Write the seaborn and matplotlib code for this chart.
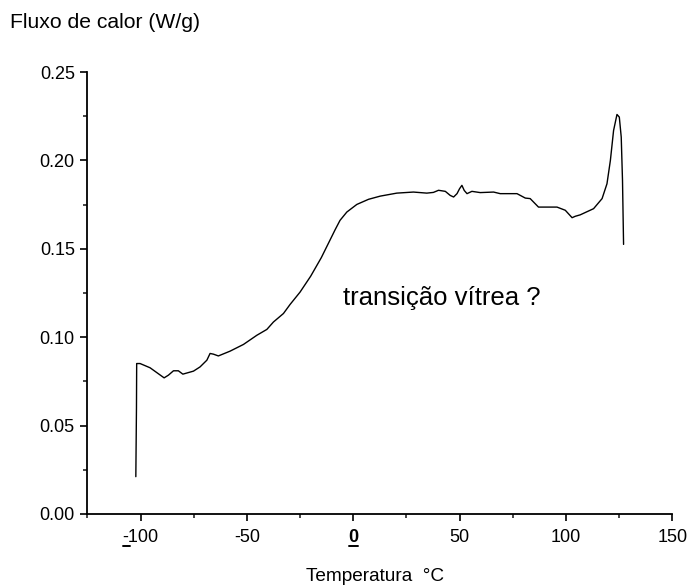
import matplotlib
matplotlib.use("Agg")
import matplotlib.pyplot as plt
from matplotlib.lines import Line2D
from matplotlib.ticker import MultipleLocator
import numpy as np
import pandas as pd
import seaborn as sns

# DSC heating curve: temperature (°C) vs heat flow (W/g)
temperatura = [
    -102.2, -101.9, -101.8, -100.2, -95.5, -88.9, -86.9, -84.5, -82.2, -80.1,
    -75.1, -72.0, -68.8, -67.3, -65.7, -63.4, -57.9, -51.6, -45.3, -40.6,
    -37.5, -32.8, -29.7, -25.0, -20.0, -15.0, -11.5, -8.5, -6.2, -3.0,
    1.7, 7.2, 12.7, 20.5, 28.3, 34.6, 37.7, 40.1, 43.3, 45.6,
    47.2, 48.8, 50.0, 51.1, 52.2, 53.5, 55.8, 59.7, 66.0, 69.1,
    77.0, 80.9, 83.2, 87.1, 91.1, 95.8, 99.7, 102.9, 104.4, 106.7,
    113.0, 117.0, 119.3, 120.9, 122.4, 124.0, 125.1, 126.0, 126.6, 127.1,
]
fluxo = [
    0.0211, 0.0600, 0.0851, 0.0851, 0.0827, 0.0770, 0.0785, 0.0810, 0.0810, 0.0791,
    0.0808, 0.0832, 0.0870, 0.0908, 0.0904, 0.0894, 0.0921, 0.0959, 0.1011, 0.1044,
    0.1086, 0.1134, 0.1185, 0.1255, 0.1345, 0.1450, 0.1535, 0.1608, 0.1661, 0.1708,
    0.1751, 0.1780, 0.1798, 0.1815, 0.1821, 0.1815, 0.1819, 0.1831, 0.1825, 0.1802,
    0.1793, 0.1812, 0.1840, 0.1859, 0.1830, 0.1812, 0.1825, 0.1818, 0.1821, 0.1812,
    0.1812, 0.1787, 0.1784, 0.1736, 0.1736, 0.1736, 0.1718, 0.1676, 0.1684, 0.1692,
    0.1727, 0.1784, 0.1868, 0.2000, 0.2169, 0.2260, 0.2245, 0.2132, 0.1887, 0.1525,
]

x_ticks = [-100, -50, 0, 50, 100, 150]
x_tick_labels = ["-100", "-50", "0", "50", "100", "150"]
y_ticks = [0.00, 0.05, 0.10, 0.15, 0.20, 0.25]
y_tick_labels = ["0.00", "0.05", "0.10", "0.15", "0.20", "0.25"]

sns.set_style("ticks")
plt.rcParams["font.family"] = ["Liberation Sans", "DejaVu Sans"]
plt.rcParams["text.color"] = "black"
plt.rcParams["xtick.direction"] = "out"
plt.rcParams["ytick.direction"] = "out"

fig = plt.figure(figsize=(6.92, 5.87), dpi=100)
ax = fig.add_axes([0.1262, 0.1244, 0.9715 - 0.1262, 0.8773 - 0.1244])

df = pd.DataFrame({"Temperatura": temperatura, "Fluxo": fluxo})
sns.lineplot(data=df, x="Temperatura", y="Fluxo", ax=ax, color="black",
             linewidth=1.0, sort=False, estimator=None)

ax.set_xlim(-125, 150)
ax.set_ylim(0, 0.25)
ax.set_xticks(x_ticks)
ax.set_xticklabels(x_tick_labels)
ax.set_yticks(y_ticks)
ax.set_yticklabels(y_tick_labels)
ax.xaxis.set_minor_locator(MultipleLocator(25))
ax.yaxis.set_minor_locator(MultipleLocator(0.025))
ax.tick_params(which="major", length=5, width=1.2, labelsize=13,
               colors="black", pad=4)
ax.tick_params(which="minor", length=3, width=1.2)
ax.tick_params(axis="x", which="major", pad=6)

for side in ("top", "right"):
    ax.spines[side].set_visible(False)
for side in ("left", "bottom"):
    ax.spines[side].set_linewidth(1.3)
    ax.spines[side].set_color("black")

ax.set_xlabel("")
ax.set_ylabel("")
fig.text(0.542, 0.004, "Temperatura  °C", ha="center", va="bottom", fontsize=13.7)
fig.text(0.014, 0.962, "Fluxo de calor (W/g)", ha="left", va="center", fontsize=15.2)

ax.text(-4.7, 0.122, "transição vítrea ?", ha="left", va="center", fontsize=18.5)

# bold zero label and underline marks beneath the "0" and the minus of "-100"
labels = ax.get_xticklabels()
labels[2].set_fontweight("bold")
fig.canvas.draw()
renderer = fig.canvas.get_renderer()
W, H = fig.get_size_inches() * fig.dpi
for lab, frac in ((labels[2], 1.0), (labels[0], 0.22)):
    bb = lab.get_window_extent(renderer)
    x0, x1 = bb.x0 + 0.5, bb.x0 + (bb.x1 - bb.x0) * frac
    yb = bb.y0 + 0.5
    fig.add_artist(Line2D([x0 / W, x1 / W], [yb / H, yb / H], color="black",
                          linewidth=1.4, transform=fig.transFigure))

fig.savefig("out.png", dpi=100)
